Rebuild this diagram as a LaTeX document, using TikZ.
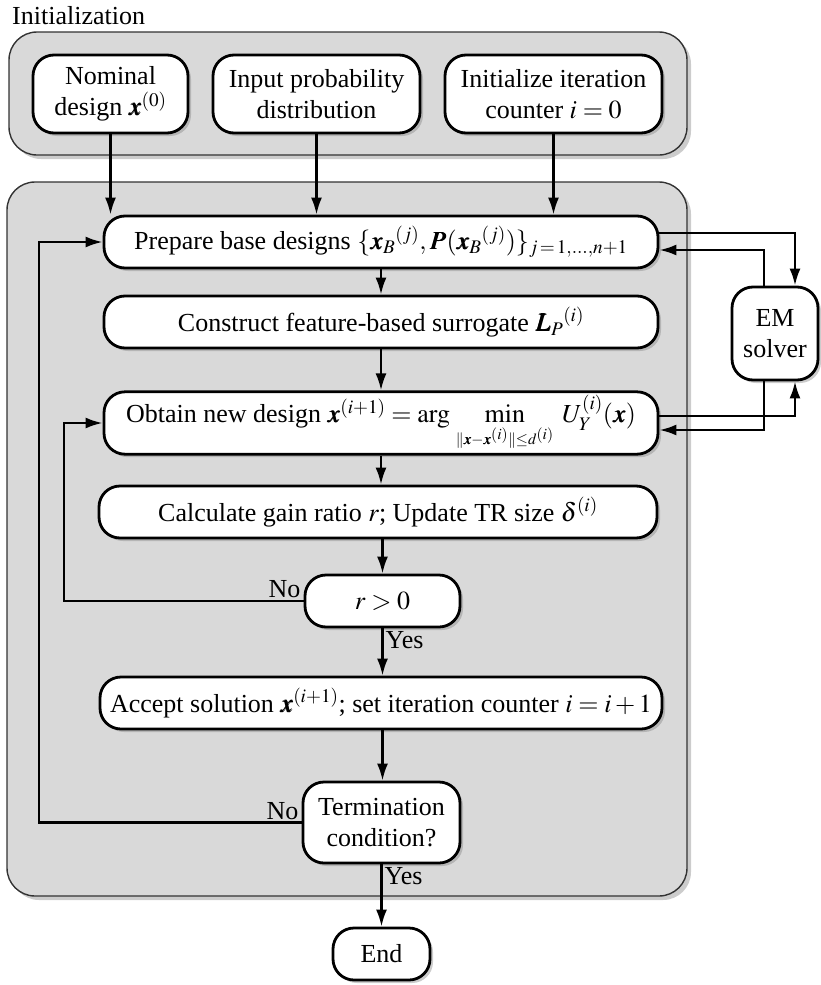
\documentclass[tikz,border=0pt]{standalone}
\usepackage{mathptmx}
\usepackage{bm}
\usepackage{fontspec}
\setmainfont{Liberation Serif}
\usetikzlibrary{shadows,arrows.meta}
\definecolor{panelgray}{HTML}{D9D9D9}
\tikzset{x=1pt, y=-1pt,
    every node/.style={font=\fontsize{26}{31}\selectfont},
    panel/.style={draw=black!80, line width=1.4pt, fill=panelgray,
        rounded corners=28pt,
        drop shadow={shadow xshift=4pt, shadow yshift=-4pt, opacity=0.4}},
    block/.style={draw, line width=2.8pt, fill=white, rounded corners=21pt,
        align=center, inner sep=3pt,
        drop shadow={shadow xshift=3pt, shadow yshift=-3pt, opacity=0.4}},
    link/.style={line width=2.4pt, -{Latex[length=17pt,width=11pt]}},
    tag/.style={inner sep=2pt},
    }
\begin{document}
\begin{tikzpicture}
	\useasboundingbox (0,0) rectangle (820,985);
	% background panels
	\node[panel, minimum width=678, minimum height=123] (initbg) at (348,93.5) {};
	\node[panel, minimum width=680, minimum height=714] (mainbg) at (347,539) {};
	\node[anchor=west, inner sep=4pt] (inittitle) at (8,16) {Initialization};
	% initialization
	\node[block, minimum width=155, minimum height=78] (nom) at (110.5,94) {Nominal\\design $\bm{x}^{(0)}$};
	\node[block, minimum width=207, minimum height=78] (inp) at (316.5,94) {Input probability\\distribution};
	\node[block, minimum width=217, minimum height=78] (ctr) at (553.5,94) {Initialize iteration\\counter $i=0$};
	% main loop
	\node[block, minimum width=554, minimum height=52] (prep) at (381,242) {Prepare base designs $\{\bm{x}_B{}^{(j)},\bm{P}(\bm{x}_B{}^{(j)})\}_{j\,=\,1,\dots,n+1}$};
	\node[block, minimum width=554, minimum height=52] (cons) at (381,322) {Construct feature-based surrogate $\bm{L}_P{}^{(i)}$};
	\node[block, minimum width=554, minimum height=56] (obt) at (381,423) {Obtain new design $\bm{x}^{(i+1)}=\arg\,\min\limits_{\rule{0pt}{7pt}\scriptscriptstyle\|\bm{x}-\bm{x}^{(i)}\|\le d^{(i)}}\; U_Y^{(i)}(\bm{x})$};
	\node[block, minimum width=558, minimum height=52] (calc) at (378,512) {Calculate gain ratio $r$; Update TR size $\delta^{(i)}$};
	\node[block, minimum width=155, minimum height=52] (rpos) at (382.5,601) {$r>0$};
	\node[block, minimum width=562, minimum height=52] (acc) at (381,703) {Accept solution $\bm{x}^{(i+1)}$; set iteration counter $i=i+1$};
	\node[block, minimum width=157, minimum height=81] (term) at (381.5,822.5) {Termination\\condition?};
	\node[block, minimum width=97, minimum height=52] (stop) at (381.5,954) {End};
	\node[block, minimum width=86, minimum height=93] (em) at (775,333.5) {EM\\solver};
	% connectors
	\draw[link] (nom.south) -- (nom.south |- prep.north);
	\draw[link] (inp.south) -- (inp.south |- prep.north);
	\draw[link] (ctr.south) -- (ctr.south |- prep.north);
	\draw[link] (prep.south) -- (prep.south |- cons.north);
	\draw[link] (cons.south) -- (cons.south |- obt.north);
	\draw[link] (obt.south) -- (obt.south |- calc.north);
	\draw[link] (rpos.north |- calc.south) -- (rpos.north);
	\draw[link] (rpos.south) -- node[tag, anchor=north west, pos=0] {Yes} (rpos.south |- acc.north);
	\draw[link] (rpos.south |- acc.south) -- (rpos.south |- term.north);
	\draw[link] (term.south) -- node[tag, anchor=north west, pos=0] {Yes} (stop.north);
	% loops
	\coordinate (innerturn) at (64,601);
	\coordinate (outerturn) at (39,822.5);
	\draw[link] (rpos.west) node[tag, anchor=south east] {No} -- (innerturn) |- (obt.west);
	\draw[link] (term.west) node[tag, anchor=south east] {No} -- (outerturn) |- (prep.west);
	% EM solver
	\draw[link] ([yshift=9pt]prep.east) -| ([xshift=20pt]em.north);
	\draw[link] ([xshift=-11pt]em.north) |- ([yshift=-8pt]prep.east);
	\draw[link] ([yshift=7pt]obt.east) -| ([xshift=20pt]em.south);
	\draw[link] ([xshift=-11pt]em.south) |- ([yshift=-7pt]obt.east);
\end{tikzpicture}
\end{document}
